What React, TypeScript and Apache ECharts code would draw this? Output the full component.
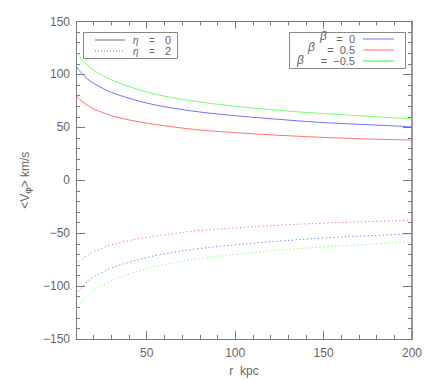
import React, { useEffect, useRef } from "react";
import * as echarts from "echarts";

const radii = [10, 12, 15, 20, 25, 30, 40, 50, 60, 80, 100, 125, 150, 175, 200];
// eta = 0 (solid)
const beta0Eta0 = [108, 103.5, 98, 91.5, 87, 83, 77.5, 73, 69.5, 64.5, 61, 57.5, 54.5, 52.5, 50.5];
const betaHalfEta0 = [80, 76.5, 72.5, 67.5, 64, 61, 57, 54, 51.5, 47.5, 45, 42.5, 40.5, 39, 38];
const betaMinusHalfEta0 = [122, 117, 111, 104, 99, 95, 88.5, 83.5, 79.5, 74, 70, 66, 63, 60.5, 58];
// eta = 2 (dotted)
const beta0Eta2 = [-108, -103.5, -98, -91.5, -87, -83, -77.5, -73, -69.5, -64.5, -61, -57.5, -54.5, -52.5, -50.5];
const betaHalfEta2 = [-80, -76.5, -72.5, -67.5, -64, -61, -57, -54, -51.5, -47.5, -45, -42.5, -40.5, -39, -38];
const betaMinusHalfEta2 = [-122, -117, -111, -104, -99, -95, -88.5, -83.5, -79.5, -74, -70, -66, -63, -60.5, -58];

const xMajor = [50, 100, 150, 200];
const xMinor = [10, 20, 30, 40, 50, 60, 70, 80, 90, 100, 110, 120, 130, 140, 150, 160, 170, 180, 190, 200];

const BLUE = "#7070ff";
const RED = "#ff7070";
const GREEN = "#70ff70";
const AXIS = "#7a7a7a";
const TEXT = "#666666";
const FONT = "Liberation Sans, Arial, sans-serif";

export default function App() {
  const ref = useRef<HTMLDivElement>(null);
  useEffect(() => {
    if (!ref.current) return;
    const chart = echarts.init(ref.current, null, { renderer: "svg" });
    const pairs = (ys: number[]) => radii.map((r, i) => [r, ys[i]]);
    const mk = (name: string, ys: number[], color: string, dotted: boolean) => ({
      name,
      type: "line",
      data: pairs(ys),
      showSymbol: false,
      smooth: 0.4,
      xAxisIndex: 0,
      yAxisIndex: 0,
      lineStyle: { color, width: 1, type: dotted ? [1.2, 2.6] : "solid" },
      silent: true,
    });
    const baseX = {
      type: "value",
      min: 10,
      max: 200,
      splitLine: { show: false },
    };
    chart.setOption({
      animation: false,
      backgroundColor: "#ffffff",
      grid: { left: 76, right: 24, top: 21.5, bottom: 42.5 },
      xAxis: [
        {
          ...baseX,
          position: "bottom",
          axisLine: { show: true, onZero: false, lineStyle: { color: AXIS, width: 1 } },
          axisTick: { show: true, inside: true, length: 8, customValues: xMajor, lineStyle: { color: AXIS } },
          axisLabel: { customValues: xMajor, color: TEXT, fontFamily: FONT, fontSize: 12, margin: 8 },
          name: "r  kpc",
          nameLocation: "middle",
          nameGap: 26,
          nameTextStyle: { color: TEXT, fontFamily: FONT, fontSize: 12 },
        },
        {
          ...baseX,
          position: "bottom",
          axisLine: { show: false, onZero: false },
          axisTick: { show: true, inside: true, length: 4, customValues: xMinor, lineStyle: { color: AXIS } },
          axisLabel: { show: false },
        },
        {
          ...baseX,
          position: "top",
          axisLine: { show: true, onZero: false, lineStyle: { color: AXIS, width: 1 } },
          axisTick: { show: true, inside: true, length: 7, customValues: xMajor, lineStyle: { color: AXIS } },
          axisLabel: { show: false },
        },
        {
          ...baseX,
          position: "top",
          axisLine: { show: false, onZero: false },
          axisTick: { show: true, inside: true, length: 4, customValues: xMinor, lineStyle: { color: AXIS } },
          axisLabel: { show: false },
        },
      ],
      yAxis: [
        {
          type: "value",
          min: -150,
          max: 150,
          interval: 50,
          position: "left",
          splitLine: { show: false },
          axisLine: { show: true, onZero: false, lineStyle: { color: AXIS, width: 1 } },
          axisTick: { show: true, inside: true, length: 9, lineStyle: { color: AXIS } },
          minorTick: { show: true, splitNumber: 5, length: 4, lineStyle: { color: AXIS } },
          axisLabel: {
            color: TEXT,
            fontFamily: FONT,
            fontSize: 12,
            margin: 6,
            formatter: (v: number) => String(v).replace("-", "\u2212"),
          },
          name: "<V{sub|\u03c6}> km/s",
          nameLocation: "middle",
          nameRotate: 90,
          nameGap: 44,
          nameTextStyle: {
            color: TEXT,
            fontFamily: FONT,
            fontSize: 12,
            rich: { sub: { fontSize: 9, fontWeight: "bold", color: TEXT, fontFamily: FONT, padding: [6, 0, 0, 0] } },
          },
        },
        {
          type: "value",
          min: -150,
          max: 150,
          interval: 50,
          position: "right",
          splitLine: { show: false },
          axisLine: { show: true, onZero: false, lineStyle: { color: "#9a9a9a", width: 2 } },
          axisTick: { show: true, inside: true, length: 9, lineStyle: { color: AXIS } },
          minorTick: { show: true, splitNumber: 5, length: 4, lineStyle: { color: AXIS } },
          axisLabel: { show: false },
        },
      ],
      series: [
        mk("b0e0", beta0Eta0, BLUE, false),
        mk("b05e0", betaHalfEta0, RED, false),
        mk("bm05e0", betaMinusHalfEta0, GREEN, false),
        mk("b0e2", beta0Eta2, BLUE, true),
        mk("b05e2", betaHalfEta2, RED, true),
        mk("bm05e2", betaMinusHalfEta2, GREEN, true),
      ],
      graphic: [
        // left legend
        { type: "rect", shape: { x: 83.5, y: 32.5, width: 94, height: 26 }, style: { fill: "#fff", stroke: "#888", lineWidth: 1 }, z: 10 },
        { type: "line", shape: { x1: 95, y1: 40, x2: 125, y2: 40 }, style: { stroke: "#777", lineWidth: 1 }, z: 11 },
        { type: "line", shape: { x1: 95, y1: 51, x2: 125, y2: 51 }, style: { stroke: "#777", lineWidth: 1, lineDash: [1, 2] }, z: 11 },
        { type: "text", x: 133, y: 40, style: { text: "\u03b7", fill: TEXT, font: "italic 10px " + FONT, verticalAlign: "middle" }, z: 11 },
        { type: "text", x: 149, y: 40, style: { text: "=", fill: TEXT, font: "10px " + FONT, verticalAlign: "middle" }, z: 11 },
        { type: "text", x: 165, y: 40, style: { text: "0", fill: TEXT, font: "11px " + FONT, verticalAlign: "middle" }, z: 11 },
        { type: "text", x: 133, y: 51, style: { text: "\u03b7", fill: TEXT, font: "italic 10px " + FONT, verticalAlign: "middle" }, z: 11 },
        { type: "text", x: 149, y: 51, style: { text: "=", fill: TEXT, font: "10px " + FONT, verticalAlign: "middle" }, z: 11 },
        { type: "text", x: 165, y: 51, style: { text: "2", fill: TEXT, font: "11px " + FONT, verticalAlign: "middle" }, z: 11 },
        // right legend
        { type: "rect", shape: { x: 289.5, y: 32.5, width: 116, height: 36 }, style: { fill: "#fff", stroke: "#888", lineWidth: 1 }, z: 10 },
        { type: "line", shape: { x1: 363, y1: 39, x2: 394, y2: 39 }, style: { stroke: BLUE, lineWidth: 1 }, z: 11 },
        { type: "line", shape: { x1: 363, y1: 50, x2: 394, y2: 50 }, style: { stroke: RED, lineWidth: 1 }, z: 11 },
        { type: "line", shape: { x1: 363, y1: 61, x2: 394, y2: 61 }, style: { stroke: GREEN, lineWidth: 1.5 }, z: 11 },
        { type: "text", x: 320, y: 36, style: { text: "\u03b2", fill: TEXT, font: "italic 12px " + FONT, verticalAlign: "middle" }, z: 11 },
        { type: "text", x: 355, y: 39, style: { text: "=  0", fill: TEXT, font: "11px " + FONT, align: "right", verticalAlign: "middle" }, z: 11 },
        { type: "text", x: 308, y: 47, style: { text: "\u03b2", fill: TEXT, font: "italic 12px " + FONT, verticalAlign: "middle" }, z: 11 },
        { type: "text", x: 355, y: 50, style: { text: "=  0.5", fill: TEXT, font: "11px " + FONT, align: "right", verticalAlign: "middle" }, z: 11 },
        { type: "text", x: 297, y: 60, style: { text: "\u03b2", fill: TEXT, font: "italic 12px " + FONT, verticalAlign: "middle" }, z: 11 },
        { type: "text", x: 355, y: 61, style: { text: "=  \u22120.5", fill: TEXT, font: "11px " + FONT, align: "right", verticalAlign: "middle" }, z: 11 },
      ],
    });
    return () => chart.dispose();
  }, []);
  return (
    <div
      ref={ref}
      style={{ position: "fixed", left: 0, top: 0, width: 436, height: 382, background: "#fff" }}
    />
  );
}
